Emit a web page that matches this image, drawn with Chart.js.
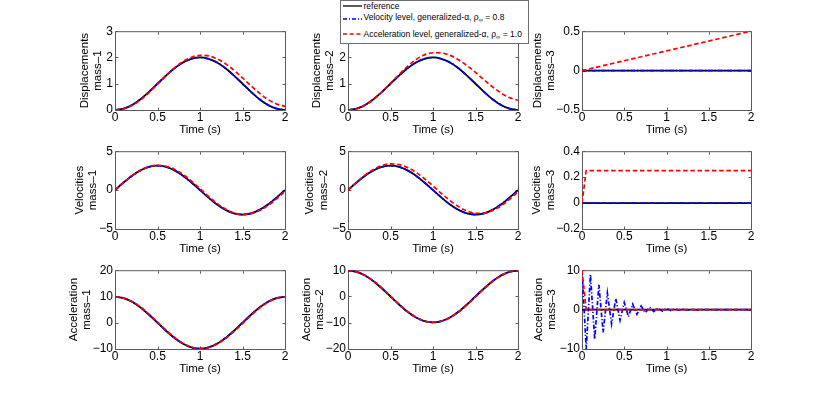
<!DOCTYPE html>
<html><head><meta charset="utf-8">
<script src="https://cdn.jsdelivr.net/npm/chart.js@4.4.1/dist/chart.umd.min.js"></script>
<style>
html,body{margin:0;padding:0;background:#fff;width:830px;height:399px;overflow:hidden;position:relative}
canvas{position:absolute}
#legend{position:absolute;left:340px;top:0;width:189px;height:44px;box-sizing:border-box;border:1px solid #6e6e6e;background:#fff;font-family:"Liberation Sans",Arial,Helvetica,sans-serif;font-size:8.5px;color:#000;z-index:10}
.row{position:absolute;left:0;width:186px;height:12px;white-space:nowrap}
.row svg{position:absolute;left:2px;top:0}
.row span.t{position:absolute;left:22.5px;top:0;line-height:12px}
sub{font-size:6px;vertical-align:-2px;line-height:0}
</style></head><body>
<div id="legend"></div>
<script>
// ---------- data ----------
const t21 = [0,0.1,0.2,0.3,0.4,0.5,0.6,0.7,0.8,0.9,1,1.1,1.2,1.3,1.4,1.5,1.6,1.7,1.8,1.9,2];
const t41 = [0,0.05,0.1,0.15,0.2,0.25,0.3,0.35,0.4,0.45,0.5,0.55,0.6,0.65,0.7,0.75,0.8,0.85,0.9,0.95,1,1.05,1.1,1.15,1.2,1.25,1.3,1.35,1.4,1.45,1.5,1.55,1.6,1.65,1.7,1.75,1.8,1.85,1.9,1.95,2];
const tLine = [0,2];
const tStep = [0,0.05,2];
const tRamp = [0,0.5,1,1.5,2];

const seriesNames = ['reference','Velocity level, generalized-α, ρ∞ = 0.8','Acceleration level, generalized-α, ρ∞ = 1.0'];
const seriesColors = ['#000000','#0000ff','#ff0000'];

// displacements
const dispRef  = [0,0.05,0.19,0.41,0.69,1.00,1.31,1.59,1.81,1.95,2.00,1.95,1.81,1.59,1.31,1.00,0.69,0.41,0.19,0.05,0];
const dispVel1 = [0,0.05,0.19,0.41,0.69,1.00,1.31,1.59,1.81,1.95,2.00,1.95,1.81,1.59,1.31,1.00,0.69,0.41,0.19,0.05,0.01];
const dispAcc1 = [0,0.04,0.17,0.38,0.66,0.98,1.30,1.60,1.85,2.01,2.08,2.06,1.95,1.76,1.51,1.22,0.92,0.64,0.40,0.23,0.14];
const dispVel2 = [0,0.05,0.19,0.41,0.69,1.00,1.31,1.59,1.81,1.95,2.00,1.95,1.81,1.59,1.31,1.00,0.69,0.41,0.19,0.05,0.01];
const dispAcc2 = [0,0.04,0.18,0.40,0.69,1.02,1.35,1.66,1.92,2.10,2.18,2.17,2.08,1.91,1.69,1.43,1.15,0.88,0.65,0.47,0.37];
const disp3Ref = [0,0];
const disp3Vel = [0,0];
const disp3Acc = [0,0.125,0.25,0.375,0.5];

// velocities
const velRef  = [0,0.97,1.85,2.54,2.99,3.14,2.99,2.54,1.85,0.97,0,-0.97,-1.85,-2.54,-2.99,-3.14,-2.99,-2.54,-1.85,-0.97,0];
const velVel1 = [0,0.97,1.85,2.54,2.99,3.14,2.99,2.54,1.85,0.97,0,-0.97,-1.85,-2.54,-2.99,-3.14,-2.99,-2.54,-1.85,-0.97,0];
const velAcc1 = [0,0.95,1.83,2.54,3.02,3.19,3.07,2.66,2.01,1.16,0.19,-0.80,-1.71,-2.44,-2.94,-3.14,-3.03,-2.63,-1.98,-1.13,-0.17];
const velVel2 = [0,0.97,1.85,2.54,2.99,3.14,2.99,2.54,1.85,0.97,0,-0.97,-1.85,-2.54,-2.99,-3.14,-2.99,-2.54,-1.85,-0.97,0];
const velAcc2 = [0,1.00,1.92,2.66,3.16,3.36,3.27,2.90,2.28,1.46,0.53,-0.44,-1.35,-2.12,-2.68,-2.98,-2.96,-2.62,-2.02,-1.18,-0.22];
const vel3Ref = [0,0];
const vel3Vel = [0,0];
const vel3Acc = [0,0.25,0.25];

// accelerations
const accRef  = [9.87,9.39,7.99,5.80,3.05,0,-3.05,-5.80,-7.99,-9.39,-9.87,-9.39,-7.99,-5.80,-3.05,0,3.05,5.80,7.99,9.39,9.87];
const accVel1 = [9.87,9.39,7.99,5.80,3.05,0,-3.05,-5.80,-7.99,-9.39,-9.87,-9.39,-7.99,-5.80,-3.05,0,3.05,5.80,7.99,9.39,9.87];
const accAcc1 = [9.87,9.42,8.10,5.98,3.28,0.25,-2.82,-5.60,-7.84,-9.30,-9.87,-9.48,-8.15,-6.02,-3.32,-0.30,2.78,5.55,7.80,9.27,9.86];
const accVel2 = [9.87,9.39,7.99,5.80,3.05,0,-3.05,-5.80,-7.99,-9.39,-9.87,-9.39,-7.99,-5.80,-3.05,0,3.05,5.80,7.99,9.39,9.87];
const accAcc2 = [9.87,9.41,8.06,5.92,3.20,0.16,-2.90,-5.68,-7.90,-9.34,-9.87,-9.44,-8.09,-5.94,-3.22,-0.18,2.88,5.65,7.88,9.32,9.87];
const acc3Ref = [0,0];
const acc3Vel = [10,-10,8.9,-7.5,6.3,-5.8,4.2,-3.6,2.8,-2.7,1.8,-1.8,1.4,-1.2,0.9,-0.8,0.6,-0.5,0.4,-0.4,0.3,-0.25,0.2,-0.15,0.1,-0.1,0.05,-0.05,0,0,0,0,0,0,0,0,0,0,0,0,0];
const acc3Acc = [10,0,0];

// ticks and labels
const xTicks = [0,0.5,1,1.5,2];
const xTickLabels = ['0','0.5','1','1.5','2'];
const xTitle = 'Time (s)';
const rowNames = ['Displacements','Velocities','Acceleration'];
const massNames = ['mass–1','mass–2','mass–3'];
const yTicksDisp12 = [0,1,2,3];           const yLabelsDisp12 = ['0','1','2','3'];
const yTicksDisp3  = [-0.5,0,0.5];        const yLabelsDisp3  = ['−0.5','0','0.5'];
const yTicksVel12  = [-5,0,5];            const yLabelsVel12  = ['−5','0','5'];
const yTicksVel3   = [-0.2,0,0.2,0.4];    const yLabelsVel3   = ['−0.2','0','0.2','0.4'];
const yTicksAcc1   = [-10,0,10,20];       const yLabelsAcc1   = ['−10','0','10','20'];
const yTicksAcc2   = [-20,-10,0,10];      const yLabelsAcc2   = ['−20','−10','0','10'];
const yTicksAcc3   = [-10,0,10];          const yLabelsAcc3   = ['−10','0','10'];

// ---------- layout / style ----------
const FONT = '"Liberation Sans", Arial, Helvetica, sans-serif';
const AXIS_COLOR = '#5a5a5a';
const seriesDash = [[], [4.5,2,1.2,2], [4.5,2.7]];
const seriesWidths = [1.8,1.7,1.7];
const LEFT = [115,348,582], RIGHT = [285,518,751];
const TOP = [30,150,269], BOTTOM = [110,229,349];
const YW = 60, PADT = 8, PADR = 8, XH = 27;
const TITLE_SIZE = 11.5, TITLE_LH = 1.17;
const D2 = [[17,18,31],[22,24.5,31.5],[28,28,30]]; // distance of 2nd y-title line from axis

const S = (t, v, smooth) => ({t, v, smooth});
const panels = [
  {row:0,col:0,yMin:0,yMax:3,yTicks:yTicksDisp12,yLabels:yLabelsDisp12,series:[S(t21,dispRef,1),S(t21,dispVel1,1),S(t21,dispAcc1,1)]},
  {row:0,col:1,yMin:0,yMax:3,yTicks:yTicksDisp12,yLabels:yLabelsDisp12,series:[S(t21,dispRef,1),S(t21,dispVel2,1),S(t21,dispAcc2,1)]},
  {row:0,col:2,yMin:-0.5,yMax:0.5,yTicks:yTicksDisp3,yLabels:yLabelsDisp3,series:[S(tLine,disp3Ref,0),S(tLine,disp3Vel,0),S(tRamp,disp3Acc,0)]},
  {row:1,col:0,yMin:-5,yMax:5,yTicks:yTicksVel12,yLabels:yLabelsVel12,series:[S(t21,velRef,1),S(t21,velVel1,1),S(t21,velAcc1,1)]},
  {row:1,col:1,yMin:-5,yMax:5,yTicks:yTicksVel12,yLabels:yLabelsVel12,series:[S(t21,velRef,1),S(t21,velVel2,1),S(t21,velAcc2,1)]},
  {row:1,col:2,yMin:-0.2,yMax:0.4,yTicks:yTicksVel3,yLabels:yLabelsVel3,series:[S(tLine,vel3Ref,0),S(tLine,vel3Vel,0),S(tStep,vel3Acc,0)]},
  {row:2,col:0,yMin:-10,yMax:20,yTicks:yTicksAcc1,yLabels:yLabelsAcc1,series:[S(t21,accRef,1),S(t21,accVel1,1),S(t21,accAcc1,1)]},
  {row:2,col:1,yMin:-20,yMax:10,yTicks:yTicksAcc2,yLabels:yLabelsAcc2,series:[S(t21,accRef,1),S(t21,accVel2,1),S(t21,accAcc2,1)]},
  {row:2,col:2,yMin:-10,yMax:10,yTicks:yTicksAcc3,yLabels:yLabelsAcc3,series:[S(tLine,acc3Ref,0),S(t41,acc3Vel,0),S(tStep,acc3Acc,0)]}
];

const boxPlugin = {
  id: 'matBox',
  beforeDatasetsDraw(chart) {
    const {ctx, chartArea: a, scales: {x, y}} = chart;
    const tl = 2.5;
    ctx.save();
    ctx.strokeStyle = AXIS_COLOR;
    ctx.lineWidth = 1;
    ctx.setLineDash([]);
    ctx.strokeRect(a.left + 0.5, a.top + 0.5, a.right - a.left, a.bottom - a.top);
    ctx.beginPath();
    x.ticks.forEach(t => {
      const px = Math.round(x.getPixelForValue(t.value)) + 0.5;
      ctx.moveTo(px, a.bottom); ctx.lineTo(px, a.bottom - tl);
      ctx.moveTo(px, a.top + 1); ctx.lineTo(px, a.top + 1 + tl);
    });
    y.ticks.forEach(t => {
      const py = Math.round(y.getPixelForValue(t.value)) + 0.5;
      ctx.moveTo(a.left + 1, py); ctx.lineTo(a.left + 1 + tl, py);
      ctx.moveTo(a.right, py); ctx.lineTo(a.right - tl, py);
    });
    ctx.stroke();
    ctx.restore();
  }
};

function makeChart(p) {
  const L = LEFT[p.col], R = RIGHT[p.col], T = TOP[p.row], B = BOTTOM[p.row];
  const w = R - L + YW + PADR, h = B - T + PADT + XH;
  const cv = document.createElement('canvas');
  cv.width = w; cv.height = h;
  cv.style.left = (L - YW) + 'px'; cv.style.top = (T - PADT) + 'px';
  cv.style.width = w + 'px'; cv.style.height = h + 'px';
  document.body.appendChild(cv);
  const lh = TITLE_SIZE * TITLE_LH;
  const padTop = YW - D2[p.row][p.col] - 1.5 * lh;
  const datasets = p.series.map((s, i) => ({
    label: seriesNames[i],
    data: s.t.map((tv, k) => ({x: tv, y: s.v[k]})),
    borderColor: seriesColors[i],
    borderDash: seriesDash[i],
    borderWidth: seriesWidths[i],
    pointRadius: 0,
    fill: false,
    tension: 0,
    cubicInterpolationMode: s.smooth ? 'monotone' : 'default',
    order: 3 - i
  }));
  new Chart(cv, {
    type: 'line',
    data: {datasets},
    options: {
      responsive: false, animation: false, devicePixelRatio: 1, events: [],
      layout: {padding: {left: 0, top: PADT, right: PADR, bottom: 0}},
      plugins: {legend: {display: false}, tooltip: {enabled: false}},
      scales: {
        x: {
          type: 'linear', min: 0, max: 2,
          grid: {display: false, drawTicks: false}, border: {display: false},
          afterBuildTicks: s => { s.ticks = xTicks.map(v => ({value: v})); },
          afterFit: s => { s.height = XH; },
          ticks: {padding: 0, color: '#000', maxRotation: 0, autoSkip: false,
                  font: {family: FONT, size: 12, lineHeight: 1.2},
                  callback: (v, i) => xTickLabels[i]},
          title: {display: true, text: xTitle, color: '#000',
                  font: {family: FONT, size: TITLE_SIZE, lineHeight: TITLE_LH},
                  padding: {top: 0, bottom: 0}}
        },
        y: {
          type: 'linear', min: p.yMin, max: p.yMax,
          grid: {display: false, drawTicks: false}, border: {display: false},
          afterBuildTicks: s => { s.ticks = p.yTicks.map(v => ({value: v})); },
          afterFit: s => { s.width = YW; },
          ticks: {padding: 2, color: '#000', autoSkip: false,
                  font: {family: FONT, size: 12, lineHeight: 1.2},
                  callback: (v, i) => p.yLabels[i]},
          title: {display: true, text: [rowNames[p.row], massNames[p.col]], color: '#000',
                  font: {family: FONT, size: TITLE_SIZE, lineHeight: TITLE_LH},
                  padding: {top: padTop, bottom: 0}}
        }
      }
    },
    plugins: [boxPlugin]
  });
}
panels.forEach(makeChart);

// ---------- legend (HTML, built from the series arrays) ----------
const legendRowsY = [5.7, 17.3, 34];   // text centres
const legendLineY = [5.7, 19, 34.3];   // sample-line centres
const legendDashSvg = ['', '4 2 1 2', '4 2.7'];
const lg = document.getElementById('legend');
seriesNames.forEach((name, i) => {
  const row = document.createElement('div');
  row.className = 'row';
  row.style.top = (legendRowsY[i] - 1 - 6) + 'px';
  const ns = 'http://www.w3.org/2000/svg';
  const svg = document.createElementNS(ns, 'svg');
  svg.setAttribute('width', '20'); svg.setAttribute('height', '16');
  svg.style.top = (legendLineY[i] - legendRowsY[i]) + 'px';
  const ln = document.createElementNS(ns, 'line');
  ln.setAttribute('x1', '0'); ln.setAttribute('x2', '19');
  ln.setAttribute('y1', '6'); ln.setAttribute('y2', '6');
  ln.setAttribute('stroke', seriesColors[i]);
  ln.setAttribute('stroke-width', '1.3');
  if (legendDashSvg[i]) ln.setAttribute('stroke-dasharray', legendDashSvg[i]);
  svg.appendChild(ln);
  row.appendChild(svg);
  const span = document.createElement('span');
  span.className = 't';
  const parts = name.split('ρ∞');
  span.appendChild(document.createTextNode(parts[0]));
  if (parts.length > 1) {
    span.appendChild(document.createTextNode('ρ'));
    const sub = document.createElement('sub');
    sub.textContent = '∞';
    span.appendChild(sub);
    span.appendChild(document.createTextNode(parts[1]));
  }
  row.appendChild(span);
  lg.appendChild(row);
});
</script></body></html>
